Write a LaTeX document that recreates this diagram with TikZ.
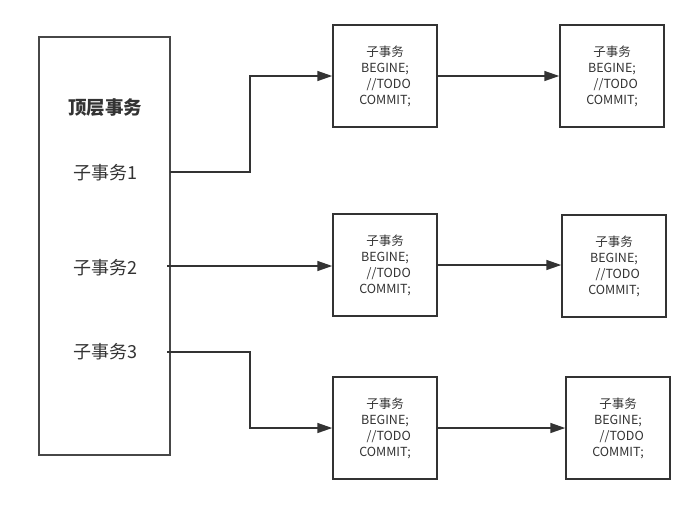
\documentclass[tikz,border=0pt]{standalone}
\usepackage{fontspec}
\setmainfont{Noto Sans CJK SC}
\usetikzlibrary{arrows.meta}
\definecolor{ln}{HTML}{333333}
\tikzset{
  sub/.style={draw=ln, line width=1.5pt, minimum width=104pt, minimum height=102pt, inner sep=0pt,
    align=center, font=\fontsize{12.5}{16}\selectfont, text=ln},
  bigbox/.style={draw=ln!90, line width=1.5pt, minimum width=131pt, minimum height=418pt, inner sep=0pt},
  lbl/.style={font=\fontsize{18}{20}\selectfont, text=ln, inner sep=0pt},
  arr/.style={draw=ln, line width=1.5pt, -{Triangle[length=15pt,width=10pt]}},
}
\newcommand{\subtxt}{子事务\\BEGINE;\\\hspace*{0.6em}//TODO\\COMMIT;}
\begin{document}
\begin{tikzpicture}[x=1pt,y=-1pt]
\useasboundingbox[fill=white] (0,0) rectangle (695,504);
\node[bigbox] (top) at (104.5,246) {};
\node[lbl, font=\fontsize{18.5}{20}\selectfont\bfseries] (title) at (105,108) {顶层事务};
\node[lbl] (l1) at (105,173) {子事务1};
\node[lbl] (l2) at (105,268) {子事务2};
\node[lbl] (l3) at (105,352) {子事务3};

\node[sub] (b11) at (385,76) {\subtxt};
\node[sub] (b12) at (612,76) {\subtxt};
\node[sub] (b21) at (385,265) {\subtxt};
\node[sub] (b22) at (614,266) {\subtxt};
\node[sub] (b31) at (385,428) {\subtxt};
\node[sub] (b32) at (618,428) {\subtxt};

\coordinate (s1) at (170,172);
\coordinate (s2) at (167,266);
\coordinate (s3) at (167,352);

\draw[arr] (s1) -- (250,172) |- (b11.west);
\draw[arr] (s2) -- (s2 -| b21.west);
\draw[arr] (s3) -- (250,352) |- (b31.west);
\draw[arr] (b11.east) -- (b12.west);
\draw[arr] (b21.east) -- (b21.east -| b22.west);
\draw[arr] (b31.east) -- (b32.west);
\end{tikzpicture}
\end{document}
